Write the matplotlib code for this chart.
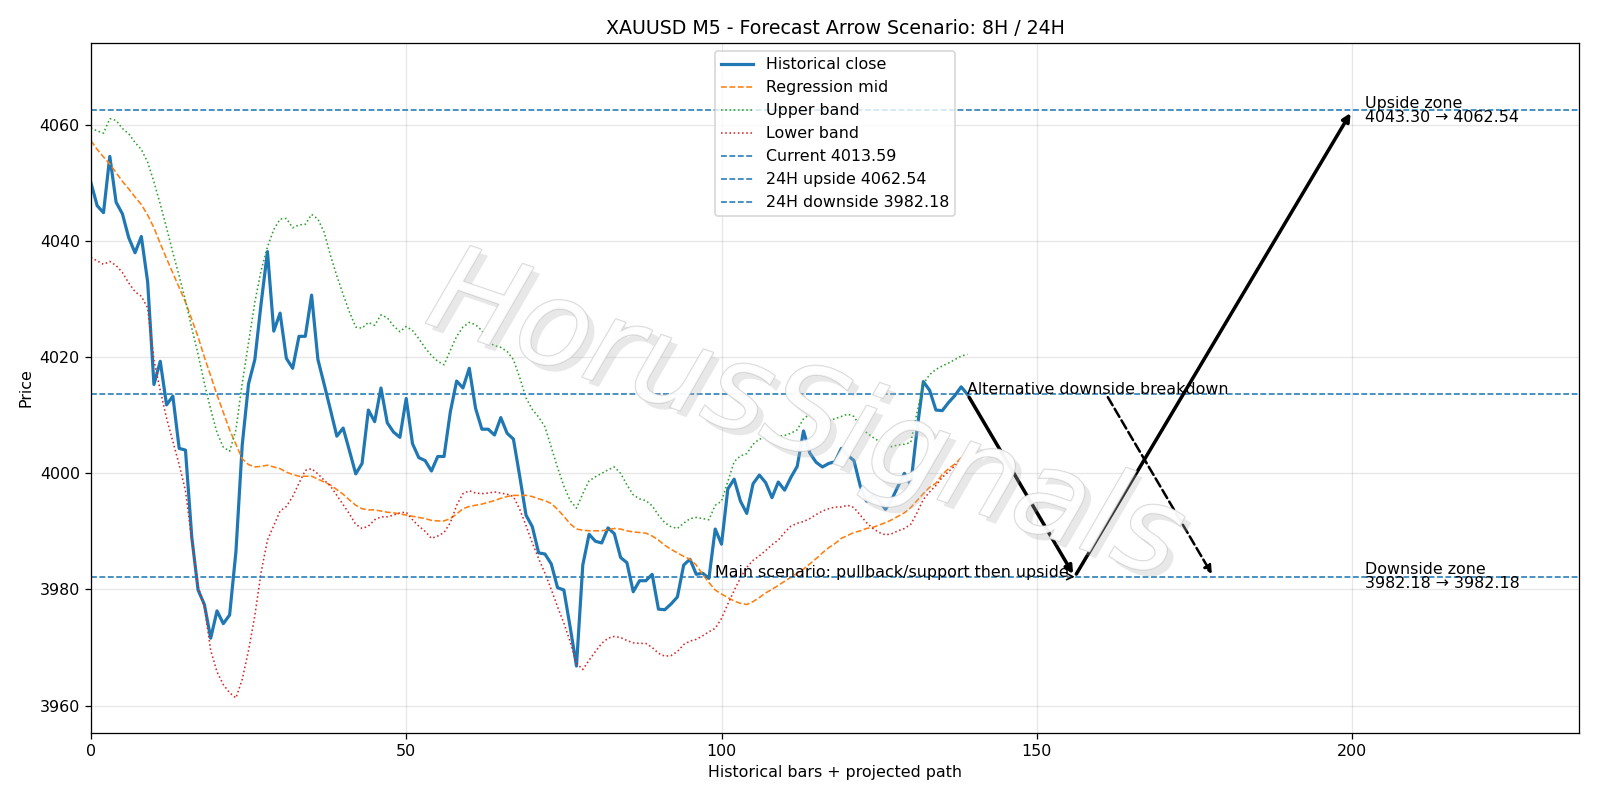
import matplotlib
matplotlib.use("Agg")
import matplotlib.pyplot as plt
import matplotlib.patheffects as pe
import numpy as np

# historical close (M5 bars)
close = [
    4050.1, 4046.1, 4044.9, 4054.6, 4046.7, 4044.7, 4040.6, 4038.0, 4040.8, 4033.0,
    4015.3, 4019.3, 4011.8, 4013.3, 4004.3, 4004.0, 3989.0, 3979.9, 3977.4, 3971.6,
    3976.3, 3974.1, 3975.6, 3986.5, 4004.9, 4015.4, 4019.6, 4029.3, 4038.2, 4024.5,
    4027.6, 4019.8, 4018.1, 4023.6, 4023.6, 4030.7, 4019.6, 4015.3, 4010.9, 4006.4,
    4007.8, 4003.9, 3999.9, 4001.7, 4010.9, 4008.9, 4014.7, 4008.7, 4007.1, 4006.2,
    4012.9, 4005.1, 4002.7, 4002.2, 4000.4, 4002.9, 4002.9, 4010.6, 4015.9, 4014.7,
    4018.1, 4011.2, 4007.6, 4007.6, 4006.6, 4009.6, 4006.9, 4005.9, 3999.5, 3992.8,
    3990.8, 3986.3, 3986.1, 3984.4, 3980.3, 3979.9, 3973.5, 3966.8, 3984.2, 3989.5,
    3988.3, 3988.0, 3990.6, 3989.6, 3985.5, 3984.6, 3979.6, 3981.5, 3981.5, 3982.6,
    3976.6, 3976.5, 3977.5, 3978.7, 3984.2, 3985.2, 3982.6, 3982.8, 3981.9, 3990.4,
    3987.8, 3997.3, 3999.0, 3995.2, 3993.1, 3998.2, 3999.7, 3998.4, 3995.8, 3998.5,
    3997.1, 3999.3, 4001.2, 4007.3, 4003.5, 4001.9, 4001.1, 4001.7, 4002.0, 4004.3,
    4003.1, 4002.2, 3997.8, 3995.2, 3996.2, 3995.3, 3993.8, 3995.5, 3997.8, 4000.0,
    3998.0, 4007.5, 4015.8, 4014.3, 4010.9, 4010.8, 4012.2, 4013.4, 4014.9, 4013.59,
]

reg_mid = [
    4057.3, 4055.8, 4054.5, 4053.3, 4051.8, 4050.3, 4049.0, 4047.6, 4046.3, 4044.5,
    4042.3, 4039.6, 4037.0, 4034.5, 4032.0, 4029.5, 4026.5, 4023.5, 4020.0, 4016.8,
    4013.5, 4010.5, 4007.5, 4005.0, 4002.5, 4001.5, 4001.1, 4001.2, 4001.4, 4001.1,
    4000.8, 4000.2, 3999.8, 3999.5, 3999.5, 3999.5, 3999.0, 3998.5, 3998.0, 3997.2,
    3996.4, 3995.4, 3994.5, 3993.9, 3993.7, 3993.7, 3993.5, 3993.3, 3993.2, 3993.0,
    3992.8, 3992.6, 3992.4, 3992.2, 3991.9, 3991.8, 3991.8, 3992.2, 3993.0, 3993.9,
    3994.3, 3994.5, 3994.7, 3995.0, 3995.3, 3995.7, 3996.0, 3996.2, 3996.2, 3996.2,
    3996.0, 3995.6, 3995.3, 3994.8, 3993.8, 3992.6, 3991.3, 3990.4, 3990.2, 3990.1,
    3990.1, 3990.1, 3990.3, 3990.5, 3990.4, 3990.1, 3989.9, 3989.8, 3989.7, 3989.2,
    3988.5, 3987.6, 3986.9, 3986.3, 3985.7, 3985.2, 3984.2, 3982.6, 3981.2, 3979.9,
    3979.2, 3978.6, 3978.0, 3977.6, 3977.4, 3977.9, 3978.6, 3979.4, 3980.0, 3980.7,
    3981.4, 3982.1, 3982.8, 3983.5, 3984.4, 3985.3, 3986.3, 3987.2, 3987.9, 3988.8,
    3989.3, 3989.8, 3990.1, 3990.5, 3990.7, 3991.1, 3991.5, 3992.0, 3992.6, 3993.2,
    3994.1, 3995.3, 3996.5, 3997.6, 3998.3, 3999.8, 4000.8, 4001.6, 4002.7, 4003.4,
]

upper_band = [
    4059.5, 4059.0, 4058.6, 4061.1, 4060.8, 4059.4, 4058.5, 4057.0, 4055.8, 4053.6,
    4050.2, 4046.4, 4042.3, 4038.0, 4034.0, 4029.8, 4025.0, 4020.5, 4015.5, 4011.0,
    4007.0, 4004.5, 4003.8, 4007.5, 4015.5, 4022.5, 4029.5, 4035.0, 4039.0, 4042.0,
    4043.8, 4043.9, 4042.3, 4042.8, 4042.9, 4044.6, 4043.8, 4041.5, 4037.5, 4034.0,
    4030.8, 4027.8, 4025.2, 4025.0, 4026.0, 4025.5, 4027.3, 4026.8, 4025.4, 4024.4,
    4025.3, 4024.6, 4023.2, 4021.6, 4020.3, 4019.3, 4018.7, 4021.2, 4023.6, 4025.2,
    4026.0, 4025.6, 4024.6, 4022.6, 4022.0, 4021.7, 4021.0, 4019.6, 4016.5, 4013.0,
    4011.0, 4009.7, 4008.0, 4004.5, 4001.0, 3997.8, 3995.3, 3994.0, 3996.5, 3998.7,
    3999.4, 4000.0, 4000.6, 4001.1, 4000.0, 3998.0, 3996.3, 3995.6, 3995.3, 3994.4,
    3992.8, 3991.5, 3990.8, 3990.5, 3991.4, 3992.2, 3992.4, 3992.2, 3992.0, 3994.5,
    3995.2, 3998.6, 4002.0, 4003.0, 4003.4, 4005.0, 4005.9, 4006.1, 4006.2, 4006.4,
    4006.5, 4006.9, 4007.5, 4009.4, 4010.2, 4010.0, 4009.4, 4009.1, 4009.4, 4009.8,
    4010.2, 4009.8, 4008.0, 4007.0, 4006.2, 4005.5, 4004.7, 4004.6, 4004.9, 4005.0,
    4005.3, 4010.5, 4015.4, 4017.0, 4017.9, 4018.5, 4019.0, 4019.6, 4020.2, 4020.5,
]

lower_band = [
    4037.2, 4036.6, 4036.0, 4036.5, 4035.8, 4034.6, 4032.8, 4031.3, 4030.5, 4028.5,
    4019.5, 4014.3, 4009.5, 4005.5, 4001.5, 3997.0, 3988.5, 3980.5, 3977.0, 3969.5,
    3965.8, 3963.6, 3962.2, 3961.3, 3964.5, 3969.5, 3975.5, 3983.0, 3988.5, 3991.0,
    3993.5, 3994.3, 3996.0, 3998.3, 4000.5, 4000.8, 3999.9, 3998.8, 3997.8, 3996.2,
    3994.6, 3993.0, 3991.2, 3990.5, 3990.9, 3992.0, 3992.5, 3992.5, 3992.8, 3993.2,
    3993.3, 3992.0, 3990.9, 3990.0, 3988.8, 3989.2, 3989.8, 3991.5, 3994.5, 3996.5,
    3997.0, 3996.6, 3996.5, 3996.6, 3996.8, 3996.6, 3996.4, 3996.0, 3993.8, 3991.0,
    3988.0, 3985.3, 3982.8, 3980.0, 3977.0, 3974.2, 3971.0, 3967.3, 3966.2, 3967.8,
    3969.3, 3970.7, 3971.6, 3971.9, 3971.7, 3971.2, 3970.8, 3970.7, 3970.7, 3970.0,
    3969.0, 3968.5, 3968.6, 3969.3, 3970.5, 3971.1, 3971.4, 3972.0, 3972.7, 3973.3,
    3975.0, 3977.5, 3979.8, 3982.0, 3983.8, 3985.0, 3985.8, 3986.7, 3987.7, 3988.5,
    3989.8, 3990.9, 3991.4, 3991.7, 3992.2, 3992.9, 3993.5, 3993.9, 3994.2, 3994.2,
    3994.5, 3994.1, 3992.8, 3991.5, 3990.5, 3989.8, 3989.4, 3989.6, 3990.1, 3990.5,
    3991.2, 3993.2, 3995.5, 3996.8, 3997.9, 3999.3, 4000.3, 4001.3, 4002.4, 4003.2,
]

current = 4013.59
up_24h = 4062.54
down_24h = 3982.18
up_zone = (4043.30, 4062.54)
down_zone = (3982.18, 3982.18)

x = np.arange(len(close))
last = len(close) - 1
pivot = last + 17      # pullback low
target = last + 61     # upside target
alt_start = last + 22
alt_end = last + 39

fig = plt.figure(figsize=(14, 7), dpi=1600 / 14)
ax = fig.add_subplot(111)
fig.subplots_adjust(left=0.0568, right=0.987, top=0.946, bottom=0.084)

ax.plot(x, close, color="#1f77b4", lw=2, label="Historical close")
ax.plot(x, reg_mid, "--", color="#ff7f0e", lw=1, label="Regression mid")
ax.plot(x, upper_band, ":", color="#2ca02c", lw=1, label="Upper band")
ax.plot(x, lower_band, ":", color="#d62728", lw=1, label="Lower band")
ax.axhline(current, ls="--", color="#1f77b4", lw=1, label=f"Current {current:.2f}")
ax.axhline(up_24h, ls="--", color="#1f77b4", lw=1, label=f"24H upside {up_24h:.2f}")
ax.axhline(down_24h, ls="--", color="#1f77b4", lw=1, label=f"24H downside {down_24h:.2f}")

# main scenario: pullback then upside
ax.annotate("", xy=(pivot, down_24h), xytext=(last, current),
            arrowprops=dict(arrowstyle="-|>", lw=2.2, color="black"))
ax.annotate("", xy=(target, up_24h), xytext=(pivot, down_24h),
            arrowprops=dict(arrowstyle="-|>", lw=2.2, color="black"))
ax.annotate("Main scenario: pullback/support then upside", xy=(pivot, down_24h),
            xytext=(last - 40, down_24h), fontsize=10,
            arrowprops=dict(arrowstyle="->", lw=1, color="black"))

# alternative
ax.annotate("", xy=(alt_end, down_24h), xytext=(alt_start, current),
            arrowprops=dict(arrowstyle="-|>", lw=1.6, ls="--", color="black"))
ax.text(last, current, "Alternative downside breakdown", fontsize=10)

ax.text(last + 63, up_24h, f"Upside zone\n{up_zone[0]:.2f} \u2192 {up_zone[1]:.2f}",
        va="center", fontsize=10, linespacing=0.95)
ax.text(last + 63, down_24h, f"Downside zone\n{down_zone[0]:.2f} \u2192 {down_zone[1]:.2f}",
        va="center", fontsize=10, linespacing=0.95)

# watermark
ax.text(0.48, 0.455, "HorusSignals", transform=ax.transAxes, fontsize=76,
        style="italic", color="white", alpha=0.6, rotation=-19,
        ha="center", va="center", zorder=10,
        path_effects=[pe.withSimplePatchShadow(offset=(4, -4), shadow_rgbFace="#b5b5b5", alpha=0.3),
                      pe.Stroke(linewidth=0.9, foreground="#c4c4c4", alpha=0.7),
                      pe.Normal()])

ax.set_xlim(0, 236)
ax.set_ylim(3955.3, 4074.1)
ax.set_title("XAUUSD M5 - Forecast Arrow Scenario: 8H / 24H")
ax.set_xlabel("Historical bars + projected path")
ax.set_ylabel("Price")
ax.grid(True, alpha=0.3)
ax.legend(loc="upper center")

fig.savefig("out.png", dpi=1600 / 14)
